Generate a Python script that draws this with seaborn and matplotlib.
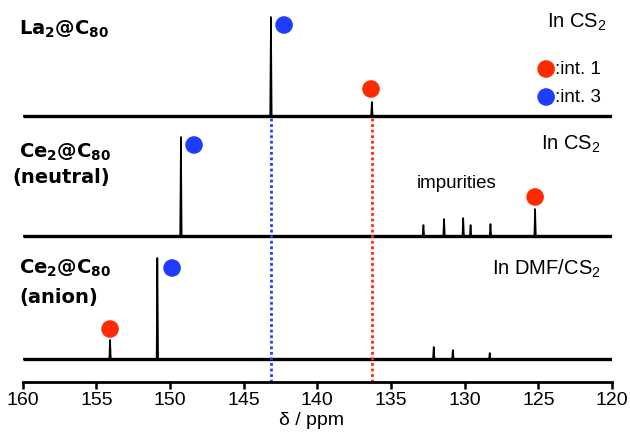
import matplotlib
matplotlib.use("Agg")
import matplotlib.pyplot as plt
import seaborn as sns
import pandas as pd

# peak positions (ppm) and heights (px above each baseline)
la_peaks = [143.15, 136.3]
la_heights = [99, 14]
neutral_peaks = [149.26, 132.8, 131.4, 130.1, 129.6, 128.25, 125.22]
neutral_heights = [99, 11, 17, 18, 11, 12, 27]
anion_peaks = [154.07, 150.86, 132.1, 130.8, 128.3]
anion_heights = [19, 101, 12, 9, 6]
baselines = [266, 146, 23]

# site markers: (ppm, y) and site label
marker_ppm = [142.26, 136.36, 148.37, 125.22, 149.86, 154.07]
marker_y = [357, 293, 237, 185, 114, 53]
marker_site = ["int. 3", "int. 1", "int. 3", "int. 1", "int. 3", "int. 1"]

ref_lines = [143.15, 136.3]
xticks = [160, 155, 150, 145, 140, 135, 130, 125, 120]

RED = "#ff2a00"
BLUE = "#1f3cff"

sns.set_style("white")
plt.rcParams["font.family"] = ["Liberation Sans", "DejaVu Sans"]
plt.rcParams["mathtext.fontset"] = "custom"
plt.rcParams["mathtext.rm"] = "Liberation Sans"
plt.rcParams["mathtext.bf"] = "DejaVu Sans:bold"
plt.rcParams["mathtext.default"] = "regular"
plt.rcParams["text.color"] = "black"
plt.rcParams["axes.labelcolor"] = "black"
plt.rcParams["xtick.color"] = "black"

W, H = 630, 432
fig = plt.figure(figsize=(6.3, 4.32), dpi=100)
ax = fig.add_axes([22.7 / W, 50 / H, 589.3 / W, 382 / H])


def build_trace(peaks, heights, base):
    xs, ys = [160], [base]
    for p, h in sorted(zip(peaks, heights), reverse=True):
        xs += [p + 0.05, p, p - 0.05]
        ys += [base, base + h, base]
    xs.append(120)
    ys.append(base)
    return xs, ys


for peaks, heights, base in zip([la_peaks, neutral_peaks, anion_peaks],
                                [la_heights, neutral_heights, anion_heights],
                                baselines):
    ax.plot([160, 120], [base, base], color="black", lw=2.4, solid_capstyle="butt")
    xs, ys = build_trace(peaks, heights, base)
    sns.lineplot(x=xs, y=ys, sort=False, estimator=None, color="black", lw=1.2, ax=ax)

# dotted reference lines through the La2@C80 peaks
for ppm, c in zip(ref_lines, [BLUE, RED]):
    ax.plot([ppm, ppm], [0, baselines[0] - 2], color=c, lw=2, ls=(0, (1, 1)))

df = pd.DataFrame({"ppm": marker_ppm, "y": marker_y, "site": marker_site})
sns.scatterplot(data=df, x="ppm", y="y", hue="site",
                palette={"int. 1": RED, "int. 3": BLUE},
                s=160, linewidth=0, legend=False, ax=ax, zorder=5)

# legend drawn by hand
ax.scatter([124.47, 124.47], [313, 285], c=[RED, BLUE], s=160, linewidth=0, zorder=5)
ax.text(123.9, 313, ":int. 1", fontsize=13.5, va="center", ha="left")
ax.text(123.9, 285, ":int. 3", fontsize=13.5, va="center", ha="left")

ax.set_xlim(160, 120)
ax.set_ylim(0, 382)
ax.set_xticks(xticks)
ax.set_yticks([])
ax.tick_params(axis="x", direction="out", length=5, width=1.8, labelsize=14,
               bottom=True, pad=2.5, color="black")
for s in ["top", "right", "left"]:
    ax.spines[s].set_visible(False)
ax.spines["bottom"].set_linewidth(2)
ax.spines["bottom"].set_color("black")
ax.set_xlabel("δ / ppm", fontsize=14)
ax.xaxis.set_label_coords(0.49, (382 - 412) / 382)
ax.set_ylabel("")


def ftext(x, y, s, **kw):
    fig.text(x / W, 1 - y / H, s, **kw)


bold = dict(fontsize=14, fontweight="bold", va="center", ha="left",
            family="DejaVu Sans")
ftext(19, 29, r"$\mathbf{La_2@C_{80}}$", **bold)
ftext(19, 152, r"$\mathbf{Ce_2@C_{80}}$", **bold)
ftext(12, 178, "(neutral)", **bold)
ftext(19, 268, r"$\mathbf{Ce_2@C_{80}}$", **bold)
ftext(19, 297, "(anion)", **bold)

right = dict(fontsize=14.5, va="center", ha="right")
ftext(607, 22, "In CS$_2$", **right)
ftext(601, 144, "In CS$_2$", **right)
ftext(601, 269, "In DMF/CS$_2$", **right)
ftext(457, 184, "impurities", fontsize=13.5, va="center", ha="center")

fig.savefig("out.png", dpi=100, facecolor="white")
